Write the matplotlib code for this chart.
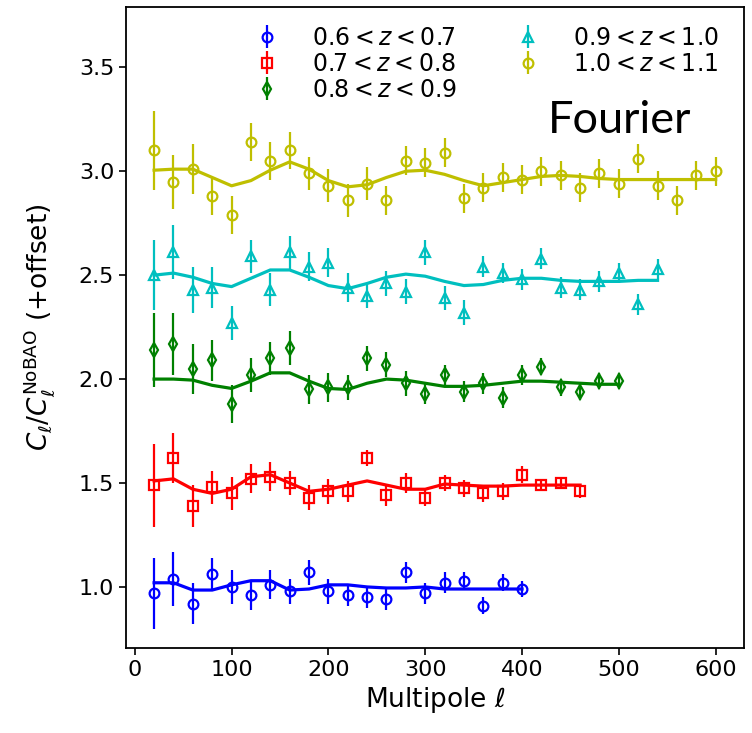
import numpy as np
import matplotlib
matplotlib.use("Agg")
import matplotlib.pyplot as plt

# ---------------------------------------------------------------------------
# Data: C_l / C_l^NoBAO (+offset) per redshift bin
# ---------------------------------------------------------------------------

ell_step = 20

labels = [r"$0.6 < z < 0.7$", r"$0.7 < z < 0.8$", r"$0.8 < z < 0.9$",
          r"$0.9 < z < 1.0$", r"$1.0 < z < 1.1$"]

y_z06 = [0.97, 1.04, 0.92, 1.06, 1.00, 0.96, 1.01, 0.98, 1.07, 0.98,
         0.96, 0.95, 0.94, 1.07, 0.97, 1.02, 1.03, 0.91, 1.02, 0.99]
e_z06 = [0.17, 0.13, 0.10, 0.08, 0.08, 0.07, 0.07, 0.06, 0.06, 0.06,
         0.05, 0.05, 0.05, 0.05, 0.05, 0.05, 0.04, 0.04, 0.04, 0.04]
m_z06 = [1.02, 1.02, 0.985, 0.985, 1.01, 1.03, 1.03, 0.985, 0.99, 1.01,
         1.01, 1.00, 0.995, 0.995, 1.00, 0.99, 0.99, 0.99, 0.99, 0.99]

y_z07 = [1.49, 1.62, 1.39, 1.48, 1.45, 1.52, 1.53, 1.50, 1.43, 1.46,
         1.46, 1.62, 1.44, 1.50, 1.43, 1.50, 1.475, 1.45, 1.46, 1.54,
         1.49, 1.50, 1.46]
e_z07 = [0.20, 0.12, 0.10, 0.08, 0.08, 0.07, 0.07, 0.06, 0.06, 0.06,
         0.05, 0.04, 0.05, 0.05, 0.04, 0.04, 0.04, 0.04, 0.04, 0.04,
         0.03, 0.03, 0.03]
m_z07 = [1.51, 1.52, 1.47, 1.45, 1.47, 1.53, 1.54, 1.50, 1.46, 1.47,
         1.49, 1.51, 1.49, 1.47, 1.47, 1.495, 1.49, 1.485, 1.485, 1.49,
         1.49, 1.49, 1.49]

y_z08 = [2.14, 2.17, 2.05, 2.09, 1.88, 2.02, 2.10, 2.15, 1.95, 1.96,
         1.96, 2.10, 2.07, 1.98, 1.93, 2.02, 1.94, 1.98, 1.91, 2.02,
         2.06, 1.96, 1.94, 1.99, 1.99]
e_z08 = [0.18, 0.15, 0.12, 0.10, 0.09, 0.08, 0.08, 0.08, 0.07, 0.07,
         0.06, 0.06, 0.06, 0.06, 0.05, 0.05, 0.05, 0.05, 0.05, 0.05,
         0.04, 0.04, 0.04, 0.04, 0.04]
m_z08 = [2.00, 2.00, 1.995, 1.97, 1.955, 1.99, 2.03, 2.03, 1.99, 1.955,
         1.95, 1.98, 2.00, 1.995, 1.98, 1.965, 1.965, 1.97, 1.98, 1.99,
         1.99, 1.985, 1.98, 1.975, 1.975]

y_z09 = [2.50, 2.61, 2.43, 2.44, 2.27, 2.59, 2.43, 2.61, 2.54, 2.56,
         2.44, 2.40, 2.46, 2.42, 2.61, 2.39, 2.32, 2.54, 2.51, 2.48,
         2.58, 2.44, 2.43, 2.47, 2.51, 2.36, 2.53]
e_z09 = [0.17, 0.13, 0.11, 0.10, 0.08, 0.08, 0.08, 0.08, 0.07, 0.07,
         0.07, 0.06, 0.06, 0.06, 0.06, 0.06, 0.06, 0.05, 0.05, 0.05,
         0.05, 0.05, 0.05, 0.05, 0.05, 0.05, 0.05]
m_z09 = [2.50, 2.51, 2.49, 2.46, 2.445, 2.485, 2.525, 2.525, 2.49, 2.45,
         2.435, 2.46, 2.49, 2.505, 2.495, 2.47, 2.45, 2.455, 2.475, 2.485,
         2.485, 2.475, 2.47, 2.47, 2.47, 2.475, 2.475]

y_z10 = [3.10, 2.95, 3.01, 2.88, 2.79, 3.14, 3.05, 3.10, 2.99, 2.93,
         2.86, 2.94, 2.86, 3.05, 3.04, 3.09, 2.87, 2.92, 2.97, 2.96,
         3.00, 2.98, 2.92, 2.99, 2.94, 3.06, 2.93, 2.86, 2.98, 3.00]
e_z10 = [0.19, 0.13, 0.12, 0.09, 0.09, 0.09, 0.09, 0.09, 0.08, 0.08,
         0.08, 0.08, 0.07, 0.07, 0.07, 0.07, 0.07, 0.07, 0.07, 0.07,
         0.07, 0.07, 0.07, 0.07, 0.07, 0.07, 0.07, 0.07, 0.07, 0.07]
m_z10 = [3.005, 3.01, 3.01, 2.97, 2.93, 2.955, 3.005, 3.045, 3.01, 2.955,
         2.925, 2.935, 2.97, 3.0, 3.005, 2.985, 2.955, 2.93, 2.945, 2.96,
         2.975, 2.98, 2.975, 2.965, 2.96, 2.96, 2.96, 2.96, 2.96, 2.96]

# ---------------------------------------------------------------------------
# Styling
# ---------------------------------------------------------------------------

COLORS  = ["#0000ff", "#ff0000", "#008000", "#00bfbf", "#bfbf00"]
MARKERS = ["o", "s", "d", "^", "o"]
FS_TICK  = 16
FS_LABEL = 19
FS_LEG   = 17

series = [(y_z06, e_z06, m_z06), (y_z07, e_z07, m_z07), (y_z08, e_z08, m_z08),
          (y_z09, e_z09, m_z09), (y_z10, e_z10, m_z10)]

fig = plt.figure(figsize=(7.52, 7.33), dpi=100)
ax = fig.add_axes([0.1676, 0.1159, 0.8214, 0.8745])

for (y, e, m), col, mk, lab in zip(series, COLORS, MARKERS, labels):
    ell = ell_step * np.arange(1, len(y) + 1)
    ax.errorbar(ell, y, yerr=e, fmt=mk, color=col, mfc="none", mec=col,
                ms=7, mew=1.6, elinewidth=1.6, capsize=0, label=lab, zorder=3)
    ax.plot(ell, m, color=col, lw=2.3, zorder=2)

ax.set_xlim(-9, 629)
ax.set_ylim(0.706, 3.79)
ax.set_xticks([0, 100, 200, 300, 400, 500, 600])
ax.set_yticks([1.0, 1.5, 2.0, 2.5, 3.0, 3.5])
ax.tick_params(labelsize=FS_TICK, length=5, width=1.2)
for sp in ax.spines.values():
    sp.set_linewidth(1.3)

ax.set_xlabel(r"Multipole $\ell$", fontsize=FS_LABEL)
ax.set_ylabel(r"$C_\ell/C_\ell^{\rm NoBAO}$ (+offset)", fontsize=FS_LABEL,
              labelpad=16)

ax.legend(loc="upper right", bbox_to_anchor=(0.99, 1.0), ncol=2,
          frameon=False, fontsize=FS_LEG, labelspacing=0.085, columnspacing=2.0,
          handletextpad=0.9, borderpad=0.3)

fig.text(0.729, 0.8186, "Fourier", fontsize=32.5, family="Lato",
         va="baseline", ha="left")

plt.savefig("out.png", dpi=100)
plt.close(fig)
